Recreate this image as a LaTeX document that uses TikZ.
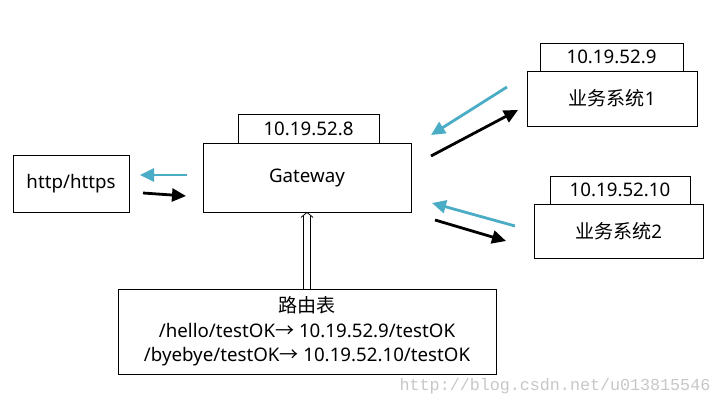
\documentclass[tikz,border=0pt]{standalone}
\usepackage{fontspec}
\setmainfont{Noto Sans}
\newfontfamily\cjk[Scale=1.02]{Noto Sans CJK SC}
\newfontfamily\markfont{Liberation Mono}
\usetikzlibrary{arrows.meta}
\definecolor{flowblue}{RGB}{75,172,198}
\tikzset{
    box/.style={draw,thick,rectangle,inner sep=0pt,font=\fontsize{18.7}{22}\selectfont},
    flow/.style={line width=2.8pt,-{Triangle[length=14pt,width=13pt]}},
}
\begin{document}
\begin{tikzpicture}[x=1pt,y=-1pt]
            \useasboundingbox (0,0) rectangle (722,406);
            \begin{scope}[every node/.style={box}]
                \node[minimum width=116pt,minimum height=57pt] (client) at (71,184) {http/https};
                \node[minimum width=208pt,minimum height=69pt] (gw) at (307,177.5) {Gateway};
                \node[minimum width=141pt,minimum height=29pt] (gwip) at (308.5,128.5) {10.19.52.8};
                \node[minimum width=170pt,minimum height=55pt] (sysa) at (612,98.5) {{\cjk 业务系统}1};
                \node[minimum width=143pt,minimum height=28pt] (sysaip) at (611.5,57) {10.19.52.9};
                \node[minimum width=169pt,minimum height=54pt] (sysb) at (618.5,231) {{\cjk 业务系统}2};
                \node[minimum width=140pt,minimum height=28pt] (sysbip) at (620,190) {10.19.52.10};
                \node[minimum width=378pt,minimum height=85pt,align=center,font=\fontsize{18.7}{24.5}\selectfont] (route) at (307,331.5)
                    {{\cjk 路由表}\\/hello/testOK{\cjk →} 10.19.52.9/testOK\\/byebye/testOK{\cjk →} 10.19.52.10/testOK};
            \end{scope}
            % arrow ends
            \coordinate (ca) at (187,175);   \coordinate (cb) at (140,175);
            \coordinate (cc) at (143,193);   \coordinate (cd) at (186,196);
            \coordinate (ua) at (507,87);    \coordinate (ub) at (431,135);
            \coordinate (uc) at (431,156);   \coordinate (ud) at (518,110);
            \coordinate (la) at (515,226);   \coordinate (lb) at (432,203);
            \coordinate (lc) at (435,220);   \coordinate (ld) at (506,241);
            \begin{scope}[every path/.style={flow}]
                \draw[flowblue] (ca) -- (cb);
                \draw[black] (cc) -- (cd);
                \draw[flowblue] (ua) -- (ub);
                \draw[black] (uc) -- (ud);
                \draw[flowblue] (la) -- (lb);
                \draw[black] (lc) -- (ld);
            \end{scope}
            % hollow arrow from the table up to the gateway
            \begin{scope}[line width=0.8pt]
                \draw ([xshift=-3.5pt]route.north) -- ([xshift=-3.5pt,yshift=-4pt]gw.south);
                \draw ([xshift=3.5pt]route.north) -- ([xshift=3.5pt,yshift=-4pt]gw.south);
                \draw ([xshift=-6pt,yshift=-5pt]gw.south) -- (gw.south) -- ([xshift=6pt,yshift=-5pt]gw.south);
            \end{scope}
            \node[text=black!22,font=\markfont\fontsize{16.7}{19}\selectfont] (mark) at (555,386) {http://blog.csdn.net/u013815546};
        \end{tikzpicture}
\end{document}
